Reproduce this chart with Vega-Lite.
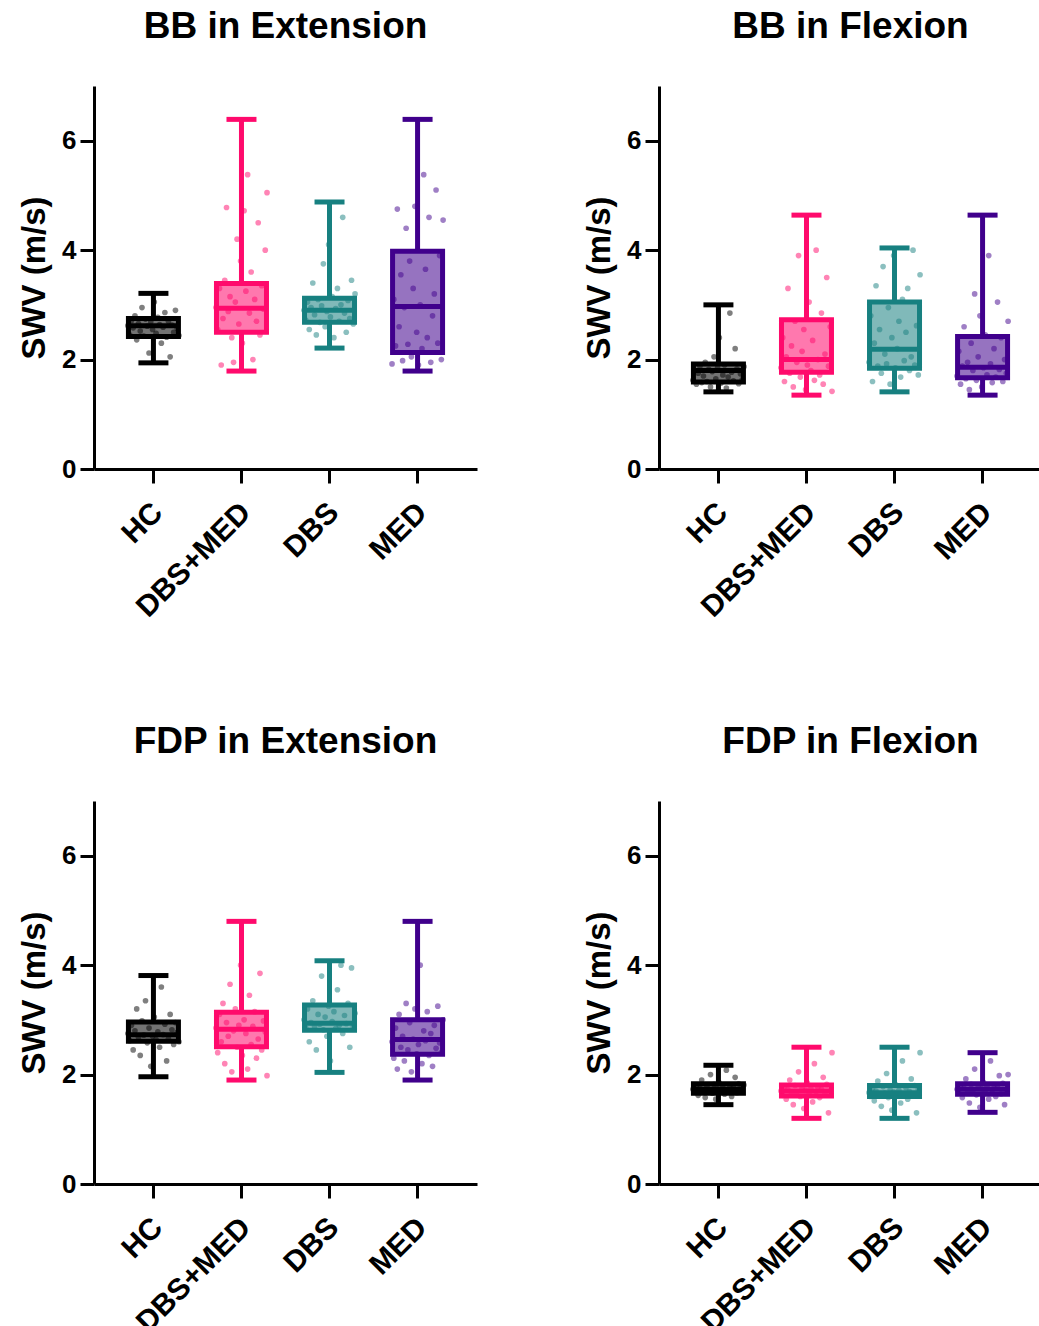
{
"$schema":"https://vega.github.io/schema/vega-lite/v6.json",
"padding":{"left":18,"top":8,"right":0,"bottom":0},
"background":"white",
"config":{
 "view":{"stroke":null},
 "font":"Liberation Sans",
 "title":{"fontSize":37,"fontWeight":"bold","color":"#000","anchor":"middle","offset":40,"font":"Liberation Sans"},
 "axis":{"grid":false,"domainColor":"#000","domainWidth":3,"tickColor":"#000","tickWidth":3,"tickSize":14,"labelColor":"#000","labelFontWeight":"bold","labelFontSize":26,"labelFont":"Liberation Sans","titleColor":"#000","titleFontWeight":"bold","titleFontSize":33,"titleFont":"Liberation Sans","labelPadding":4,"titlePadding":10}
},
"datasets":{
"stats":[
{"p":"a","g":"HC","mn":1.94,"q1":2.42,"md":2.62,"q3":2.75,"mx":3.21},
{"p":"a","g":"DBS+MED","mn":1.79,"q1":2.50,"md":2.94,"q3":3.39,"mx":6.39},
{"p":"a","g":"DBS","mn":2.21,"q1":2.68,"md":2.90,"q3":3.12,"mx":4.88},
{"p":"a","g":"MED","mn":1.79,"q1":2.13,"md":2.97,"q3":3.98,"mx":6.39},
{"p":"b","g":"HC","mn":1.41,"q1":1.59,"md":1.80,"q3":1.92,"mx":3.00},
{"p":"b","g":"DBS+MED","mn":1.35,"q1":1.77,"md":2.00,"q3":2.73,"mx":4.64},
{"p":"b","g":"DBS","mn":1.41,"q1":1.84,"md":2.19,"q3":3.05,"mx":4.04},
{"p":"b","g":"MED","mn":1.35,"q1":1.67,"md":1.86,"q3":2.42,"mx":4.64},
{"p":"c","g":"HC","mn":1.96,"q1":2.61,"md":2.73,"q3":2.96,"mx":3.81},
{"p":"c","g":"DBS+MED","mn":1.90,"q1":2.51,"md":2.83,"q3":3.14,"mx":4.80},
{"p":"c","g":"DBS","mn":2.04,"q1":2.81,"md":2.94,"q3":3.27,"mx":4.08},
{"p":"c","g":"MED","mn":1.90,"q1":2.37,"md":2.64,"q3":3.00,"mx":4.80},
{"p":"d","g":"HC","mn":1.45,"q1":1.66,"md":1.73,"q3":1.83,"mx":2.17},
{"p":"d","g":"DBS+MED","mn":1.20,"q1":1.61,"md":1.70,"q3":1.81,"mx":2.50},
{"p":"d","g":"DBS","mn":1.20,"q1":1.60,"md":1.67,"q3":1.80,"mx":2.50},
{"p":"d","g":"MED","mn":1.31,"q1":1.64,"md":1.73,"q3":1.83,"mx":2.40}
],
"pts":[
{"p":"a","g":"HC","v":2.62},{"p":"a","g":"HC","v":2.45},{"p":"a","g":"HC","v":2.71},{"p":"a","g":"HC","v":2.58},{"p":"a","g":"HC","v":2.80},{"p":"a","g":"HC","v":2.36},{"p":"a","g":"HC","v":2.66},{"p":"a","g":"HC","v":2.52},{"p":"a","g":"HC","v":2.95},{"p":"a","g":"HC","v":2.43},
{"p":"a","g":"HC","v":2.74},{"p":"a","g":"HC","v":2.61},{"p":"a","g":"HC","v":2.12},{"p":"a","g":"HC","v":2.69},{"p":"a","g":"HC","v":2.55},{"p":"a","g":"HC","v":3.05},{"p":"a","g":"HC","v":2.48},{"p":"a","g":"HC","v":2.77},{"p":"a","g":"HC","v":2.64},{"p":"a","g":"HC","v":2.30},
{"p":"a","g":"HC","v":2.59},{"p":"a","g":"HC","v":2.86},{"p":"a","g":"HC","v":2.41},{"p":"a","g":"HC","v":2.70},{"p":"a","g":"HC","v":2.05},{"p":"a","g":"HC","v":2.63},{"p":"a","g":"HC","v":2.50},{"p":"a","g":"HC","v":2.90},{"p":"a","g":"HC","v":2.57},{"p":"a","g":"HC","v":2.44},
{"p":"a","g":"DBS+MED","v":2.95},{"p":"a","g":"DBS+MED","v":2.55},{"p":"a","g":"DBS+MED","v":3.30},{"p":"a","g":"DBS+MED","v":1.90},{"p":"a","g":"DBS+MED","v":2.75},{"p":"a","g":"DBS+MED","v":3.45},{"p":"a","g":"DBS+MED","v":4.78},{"p":"a","g":"DBS+MED","v":2.88},{"p":"a","g":"DBS+MED","v":3.15},{"p":"a","g":"DBS+MED","v":2.40},
{"p":"a","g":"DBS+MED","v":1.95},{"p":"a","g":"DBS+MED","v":3.05},{"p":"a","g":"DBS+MED","v":4.20},{"p":"a","g":"DBS+MED","v":2.65},{"p":"a","g":"DBS+MED","v":3.80},{"p":"a","g":"DBS+MED","v":2.30},{"p":"a","g":"DBS+MED","v":4.72},{"p":"a","g":"DBS+MED","v":3.25},{"p":"a","g":"DBS+MED","v":5.38},{"p":"a","g":"DBS+MED","v":2.85},
{"p":"a","g":"DBS+MED","v":3.60},{"p":"a","g":"DBS+MED","v":2.00},{"p":"a","g":"DBS+MED","v":3.10},{"p":"a","g":"DBS+MED","v":2.70},{"p":"a","g":"DBS+MED","v":4.50},{"p":"a","g":"DBS+MED","v":2.45},{"p":"a","g":"DBS+MED","v":3.35},{"p":"a","g":"DBS+MED","v":2.92},{"p":"a","g":"DBS+MED","v":4.00},{"p":"a","g":"DBS+MED","v":5.05},
{"p":"a","g":"DBS","v":2.90},{"p":"a","g":"DBS","v":2.72},{"p":"a","g":"DBS","v":3.05},{"p":"a","g":"DBS","v":2.55},{"p":"a","g":"DBS","v":2.95},{"p":"a","g":"DBS","v":3.40},{"p":"a","g":"DBS","v":2.82},{"p":"a","g":"DBS","v":2.45},{"p":"a","g":"DBS","v":3.10},{"p":"a","g":"DBS","v":2.68},
{"p":"a","g":"DBS","v":2.98},{"p":"a","g":"DBS","v":3.75},{"p":"a","g":"DBS","v":2.60},{"p":"a","g":"DBS","v":2.88},{"p":"a","g":"DBS","v":4.10},{"p":"a","g":"DBS","v":2.78},{"p":"a","g":"DBS","v":3.15},{"p":"a","g":"DBS","v":2.40},{"p":"a","g":"DBS","v":2.93},{"p":"a","g":"DBS","v":3.30},
{"p":"a","g":"DBS","v":2.70},{"p":"a","g":"DBS","v":3.00},{"p":"a","g":"DBS","v":4.60},{"p":"a","g":"DBS","v":2.85},{"p":"a","g":"DBS","v":2.50},{"p":"a","g":"DBS","v":3.08},{"p":"a","g":"DBS","v":2.75},{"p":"a","g":"DBS","v":3.45},{"p":"a","g":"DBS","v":2.65},{"p":"a","g":"DBS","v":3.20},
{"p":"a","g":"MED","v":1.92},{"p":"a","g":"MED","v":3.10},{"p":"a","g":"MED","v":2.25},{"p":"a","g":"MED","v":4.75},{"p":"a","g":"MED","v":2.60},{"p":"a","g":"MED","v":3.55},{"p":"a","g":"MED","v":1.98},{"p":"a","g":"MED","v":2.95},{"p":"a","g":"MED","v":4.40},{"p":"a","g":"MED","v":2.28},
{"p":"a","g":"MED","v":3.80},{"p":"a","g":"MED","v":2.05},{"p":"a","g":"MED","v":3.30},{"p":"a","g":"MED","v":4.80},{"p":"a","g":"MED","v":2.50},{"p":"a","g":"MED","v":1.90},{"p":"a","g":"MED","v":3.00},{"p":"a","g":"MED","v":2.20},{"p":"a","g":"MED","v":5.38},{"p":"a","g":"MED","v":3.65},
{"p":"a","g":"MED","v":2.40},{"p":"a","g":"MED","v":4.60},{"p":"a","g":"MED","v":1.95},{"p":"a","g":"MED","v":2.80},{"p":"a","g":"MED","v":3.20},{"p":"a","g":"MED","v":5.10},{"p":"a","g":"MED","v":2.30},{"p":"a","g":"MED","v":3.90},{"p":"a","g":"MED","v":2.00},{"p":"a","g":"MED","v":4.55},
{"p":"b","g":"HC","v":1.62},{"p":"b","g":"HC","v":1.80},{"p":"b","g":"HC","v":1.55},{"p":"b","g":"HC","v":1.75},{"p":"b","g":"HC","v":1.88},{"p":"b","g":"HC","v":1.58},{"p":"b","g":"HC","v":1.70},{"p":"b","g":"HC","v":1.95},{"p":"b","g":"HC","v":1.60},{"p":"b","g":"HC","v":1.82},
{"p":"b","g":"HC","v":1.50},{"p":"b","g":"HC","v":1.78},{"p":"b","g":"HC","v":2.05},{"p":"b","g":"HC","v":1.65},{"p":"b","g":"HC","v":1.85},{"p":"b","g":"HC","v":2.40},{"p":"b","g":"HC","v":1.57},{"p":"b","g":"HC","v":1.72},{"p":"b","g":"HC","v":1.90},{"p":"b","g":"HC","v":1.48},
{"p":"b","g":"HC","v":1.68},{"p":"b","g":"HC","v":2.85},{"p":"b","g":"HC","v":1.77},{"p":"b","g":"HC","v":1.61},{"p":"b","g":"HC","v":2.20},{"p":"b","g":"HC","v":1.83},{"p":"b","g":"HC","v":1.56},{"p":"b","g":"HC","v":1.74},{"p":"b","g":"HC","v":1.63},{"p":"b","g":"HC","v":1.87},
{"p":"b","g":"DBS+MED","v":1.85},{"p":"b","g":"DBS+MED","v":2.40},{"p":"b","g":"DBS+MED","v":1.60},{"p":"b","g":"DBS+MED","v":2.05},{"p":"b","g":"DBS+MED","v":3.30},{"p":"b","g":"DBS+MED","v":1.75},{"p":"b","g":"DBS+MED","v":2.25},{"p":"b","g":"DBS+MED","v":1.50},{"p":"b","g":"DBS+MED","v":2.70},{"p":"b","g":"DBS+MED","v":1.95},
{"p":"b","g":"DBS+MED","v":3.90},{"p":"b","g":"DBS+MED","v":1.68},{"p":"b","g":"DBS+MED","v":2.15},{"p":"b","g":"DBS+MED","v":2.55},{"p":"b","g":"DBS+MED","v":1.45},{"p":"b","g":"DBS+MED","v":1.90},{"p":"b","g":"DBS+MED","v":3.05},{"p":"b","g":"DBS+MED","v":1.80},{"p":"b","g":"DBS+MED","v":2.35},{"p":"b","g":"DBS+MED","v":1.62},
{"p":"b","g":"DBS+MED","v":4.00},{"p":"b","g":"DBS+MED","v":2.00},{"p":"b","g":"DBS+MED","v":1.72},{"p":"b","g":"DBS+MED","v":2.85},{"p":"b","g":"DBS+MED","v":1.55},{"p":"b","g":"DBS+MED","v":2.10},{"p":"b","g":"DBS+MED","v":3.50},{"p":"b","g":"DBS+MED","v":1.88},{"p":"b","g":"DBS+MED","v":2.60},{"p":"b","g":"DBS+MED","v":1.42},
{"p":"b","g":"DBS","v":1.95},{"p":"b","g":"DBS","v":2.80},{"p":"b","g":"DBS","v":1.60},{"p":"b","g":"DBS","v":2.30},{"p":"b","g":"DBS","v":3.35},{"p":"b","g":"DBS","v":1.88},{"p":"b","g":"DBS","v":2.55},{"p":"b","g":"DBS","v":1.75},{"p":"b","g":"DBS","v":3.70},{"p":"b","g":"DBS","v":2.10},
{"p":"b","g":"DBS","v":1.92},{"p":"b","g":"DBS","v":2.95},{"p":"b","g":"DBS","v":1.55},{"p":"b","g":"DBS","v":2.40},{"p":"b","g":"DBS","v":3.90},{"p":"b","g":"DBS","v":1.85},{"p":"b","g":"DBS","v":2.20},{"p":"b","g":"DBS","v":2.70},{"p":"b","g":"DBS","v":1.68},{"p":"b","g":"DBS","v":3.10},
{"p":"b","g":"DBS","v":1.98},{"p":"b","g":"DBS","v":2.50},{"p":"b","g":"DBS","v":3.30},{"p":"b","g":"DBS","v":1.80},{"p":"b","g":"DBS","v":2.05},{"p":"b","g":"DBS","v":4.00},{"p":"b","g":"DBS","v":1.90},{"p":"b","g":"DBS","v":2.62},{"p":"b","g":"DBS","v":1.72},{"p":"b","g":"DBS","v":3.55},
{"p":"b","g":"MED","v":1.70},{"p":"b","g":"MED","v":2.15},{"p":"b","g":"MED","v":1.55},{"p":"b","g":"MED","v":1.88},{"p":"b","g":"MED","v":2.60},{"p":"b","g":"MED","v":1.65},{"p":"b","g":"MED","v":1.95},{"p":"b","g":"MED","v":1.45},{"p":"b","g":"MED","v":2.30},{"p":"b","g":"MED","v":1.80},
{"p":"b","g":"MED","v":3.20},{"p":"b","g":"MED","v":1.62},{"p":"b","g":"MED","v":2.05},{"p":"b","g":"MED","v":2.80},{"p":"b","g":"MED","v":1.50},{"p":"b","g":"MED","v":1.85},{"p":"b","g":"MED","v":2.45},{"p":"b","g":"MED","v":1.72},{"p":"b","g":"MED","v":3.90},{"p":"b","g":"MED","v":1.92},
{"p":"b","g":"MED","v":1.58},{"p":"b","g":"MED","v":2.20},{"p":"b","g":"MED","v":1.68},{"p":"b","g":"MED","v":3.05},{"p":"b","g":"MED","v":1.82},{"p":"b","g":"MED","v":2.40},{"p":"b","g":"MED","v":1.60},{"p":"b","g":"MED","v":2.00},{"p":"b","g":"MED","v":1.75},{"p":"b","g":"MED","v":2.70},
{"p":"c","g":"HC","v":2.75},{"p":"c","g":"HC","v":2.62},{"p":"c","g":"HC","v":2.90},{"p":"c","g":"HC","v":2.45},{"p":"c","g":"HC","v":2.80},{"p":"c","g":"HC","v":3.20},{"p":"c","g":"HC","v":2.68},{"p":"c","g":"HC","v":2.35},{"p":"c","g":"HC","v":2.98},{"p":"c","g":"HC","v":2.72},
{"p":"c","g":"HC","v":3.35},{"p":"c","g":"HC","v":2.58},{"p":"c","g":"HC","v":2.85},{"p":"c","g":"HC","v":2.15},{"p":"c","g":"HC","v":2.70},{"p":"c","g":"HC","v":3.05},{"p":"c","g":"HC","v":2.64},{"p":"c","g":"HC","v":2.78},{"p":"c","g":"HC","v":2.50},{"p":"c","g":"HC","v":3.60},
{"p":"c","g":"HC","v":2.73},{"p":"c","g":"HC","v":2.92},{"p":"c","g":"HC","v":2.25},{"p":"c","g":"HC","v":2.66},{"p":"c","g":"HC","v":3.10},{"p":"c","g":"HC","v":2.82},{"p":"c","g":"HC","v":2.55},{"p":"c","g":"HC","v":2.95},{"p":"c","g":"HC","v":2.77},{"p":"c","g":"HC","v":2.60},
{"p":"c","g":"DBS+MED","v":2.85},{"p":"c","g":"DBS+MED","v":2.40},{"p":"c","g":"DBS+MED","v":3.10},{"p":"c","g":"DBS+MED","v":2.60},{"p":"c","g":"DBS+MED","v":3.30},{"p":"c","g":"DBS+MED","v":2.20},{"p":"c","g":"DBS+MED","v":2.95},{"p":"c","g":"DBS+MED","v":2.70},{"p":"c","g":"DBS+MED","v":3.65},{"p":"c","g":"DBS+MED","v":2.05},
{"p":"c","g":"DBS+MED","v":2.80},{"p":"c","g":"DBS+MED","v":3.20},{"p":"c","g":"DBS+MED","v":2.50},{"p":"c","g":"DBS+MED","v":2.90},{"p":"c","g":"DBS+MED","v":4.00},{"p":"c","g":"DBS+MED","v":2.35},{"p":"c","g":"DBS+MED","v":3.00},{"p":"c","g":"DBS+MED","v":2.75},{"p":"c","g":"DBS+MED","v":2.10},{"p":"c","g":"DBS+MED","v":3.45},
{"p":"c","g":"DBS+MED","v":2.55},{"p":"c","g":"DBS+MED","v":2.88},{"p":"c","g":"DBS+MED","v":3.15},{"p":"c","g":"DBS+MED","v":2.30},{"p":"c","g":"DBS+MED","v":2.65},{"p":"c","g":"DBS+MED","v":3.85},{"p":"c","g":"DBS+MED","v":2.45},{"p":"c","g":"DBS+MED","v":2.98},{"p":"c","g":"DBS+MED","v":2.78},{"p":"c","g":"DBS+MED","v":1.98},
{"p":"c","g":"DBS","v":3.00},{"p":"c","g":"DBS","v":2.85},{"p":"c","g":"DBS","v":3.20},{"p":"c","g":"DBS","v":2.60},{"p":"c","g":"DBS","v":2.95},{"p":"c","g":"DBS","v":3.35},{"p":"c","g":"DBS","v":2.88},{"p":"c","g":"DBS","v":2.45},{"p":"c","g":"DBS","v":3.10},{"p":"c","g":"DBS","v":2.92},
{"p":"c","g":"DBS","v":3.80},{"p":"c","g":"DBS","v":2.82},{"p":"c","g":"DBS","v":3.05},{"p":"c","g":"DBS","v":2.70},{"p":"c","g":"DBS","v":3.25},{"p":"c","g":"DBS","v":2.25},{"p":"c","g":"DBS","v":2.97},{"p":"c","g":"DBS","v":3.15},{"p":"c","g":"DBS","v":2.84},{"p":"c","g":"DBS","v":3.55},
{"p":"c","g":"DBS","v":2.90},{"p":"c","g":"DBS","v":4.00},{"p":"c","g":"DBS","v":2.75},{"p":"c","g":"DBS","v":3.08},{"p":"c","g":"DBS","v":2.93},{"p":"c","g":"DBS","v":3.30},{"p":"c","g":"DBS","v":2.50},{"p":"c","g":"DBS","v":3.95},{"p":"c","g":"DBS","v":2.87},{"p":"c","g":"DBS","v":3.12},
{"p":"c","g":"MED","v":2.60},{"p":"c","g":"MED","v":2.30},{"p":"c","g":"MED","v":2.85},{"p":"c","g":"MED","v":2.10},{"p":"c","g":"MED","v":3.10},{"p":"c","g":"MED","v":2.50},{"p":"c","g":"MED","v":2.70},{"p":"c","g":"MED","v":2.25},{"p":"c","g":"MED","v":3.30},{"p":"c","g":"MED","v":2.45},
{"p":"c","g":"MED","v":2.95},{"p":"c","g":"MED","v":2.05},{"p":"c","g":"MED","v":2.65},{"p":"c","g":"MED","v":3.20},{"p":"c","g":"MED","v":2.38},{"p":"c","g":"MED","v":2.55},{"p":"c","g":"MED","v":4.00},{"p":"c","g":"MED","v":2.20},{"p":"c","g":"MED","v":2.80},{"p":"c","g":"MED","v":2.62},
{"p":"c","g":"MED","v":3.15},{"p":"c","g":"MED","v":2.35},{"p":"c","g":"MED","v":2.75},{"p":"c","g":"MED","v":2.15},{"p":"c","g":"MED","v":2.90},{"p":"c","g":"MED","v":2.48},{"p":"c","g":"MED","v":3.25},{"p":"c","g":"MED","v":2.58},{"p":"c","g":"MED","v":2.40},{"p":"c","g":"MED","v":3.00},
{"p":"d","g":"HC","v":1.73},{"p":"d","g":"HC","v":1.68},{"p":"d","g":"HC","v":1.80},{"p":"d","g":"HC","v":1.62},{"p":"d","g":"HC","v":1.75},{"p":"d","g":"HC","v":1.90},{"p":"d","g":"HC","v":1.70},{"p":"d","g":"HC","v":1.58},{"p":"d","g":"HC","v":1.78},{"p":"d","g":"HC","v":1.72},
{"p":"d","g":"HC","v":2.00},{"p":"d","g":"HC","v":1.66},{"p":"d","g":"HC","v":1.82},{"p":"d","g":"HC","v":1.55},{"p":"d","g":"HC","v":1.74},{"p":"d","g":"HC","v":1.85},{"p":"d","g":"HC","v":1.69},{"p":"d","g":"HC","v":1.76},{"p":"d","g":"HC","v":1.64},{"p":"d","g":"HC","v":2.08},
{"p":"d","g":"HC","v":1.71},{"p":"d","g":"HC","v":1.79},{"p":"d","g":"HC","v":1.60},{"p":"d","g":"HC","v":1.77},{"p":"d","g":"HC","v":1.95},{"p":"d","g":"HC","v":1.67},{"p":"d","g":"HC","v":1.83},{"p":"d","g":"HC","v":1.74},{"p":"d","g":"HC","v":1.72},{"p":"d","g":"HC","v":1.81},
{"p":"d","g":"DBS+MED","v":1.70},{"p":"d","g":"DBS+MED","v":1.62},{"p":"d","g":"DBS+MED","v":1.78},{"p":"d","g":"DBS+MED","v":1.55},{"p":"d","g":"DBS+MED","v":1.72},{"p":"d","g":"DBS+MED","v":1.90},{"p":"d","g":"DBS+MED","v":1.66},{"p":"d","g":"DBS+MED","v":1.45},{"p":"d","g":"DBS+MED","v":1.80},{"p":"d","g":"DBS+MED","v":1.68},
{"p":"d","g":"DBS+MED","v":2.05},{"p":"d","g":"DBS+MED","v":1.60},{"p":"d","g":"DBS+MED","v":1.75},{"p":"d","g":"DBS+MED","v":1.38},{"p":"d","g":"DBS+MED","v":1.71},{"p":"d","g":"DBS+MED","v":1.85},{"p":"d","g":"DBS+MED","v":1.64},{"p":"d","g":"DBS+MED","v":1.74},{"p":"d","g":"DBS+MED","v":1.50},{"p":"d","g":"DBS+MED","v":2.20},
{"p":"d","g":"DBS+MED","v":1.69},{"p":"d","g":"DBS+MED","v":1.77},{"p":"d","g":"DBS+MED","v":1.58},{"p":"d","g":"DBS+MED","v":1.73},{"p":"d","g":"DBS+MED","v":1.95},{"p":"d","g":"DBS+MED","v":1.65},{"p":"d","g":"DBS+MED","v":1.82},{"p":"d","g":"DBS+MED","v":1.30},{"p":"d","g":"DBS+MED","v":1.70},{"p":"d","g":"DBS+MED","v":2.40},
{"p":"d","g":"DBS","v":1.67},{"p":"d","g":"DBS","v":1.60},{"p":"d","g":"DBS","v":1.75},{"p":"d","g":"DBS","v":1.52},{"p":"d","g":"DBS","v":1.70},{"p":"d","g":"DBS","v":1.88},{"p":"d","g":"DBS","v":1.63},{"p":"d","g":"DBS","v":1.42},{"p":"d","g":"DBS","v":1.78},{"p":"d","g":"DBS","v":1.66},
{"p":"d","g":"DBS","v":2.02},{"p":"d","g":"DBS","v":1.58},{"p":"d","g":"DBS","v":1.72},{"p":"d","g":"DBS","v":1.35},{"p":"d","g":"DBS","v":1.68},{"p":"d","g":"DBS","v":1.82},{"p":"d","g":"DBS","v":1.62},{"p":"d","g":"DBS","v":1.71},{"p":"d","g":"DBS","v":1.48},{"p":"d","g":"DBS","v":2.25},
{"p":"d","g":"DBS","v":1.65},{"p":"d","g":"DBS","v":1.76},{"p":"d","g":"DBS","v":1.55},{"p":"d","g":"DBS","v":1.69},{"p":"d","g":"DBS","v":1.92},{"p":"d","g":"DBS","v":1.61},{"p":"d","g":"DBS","v":1.80},{"p":"d","g":"DBS","v":1.30},{"p":"d","g":"DBS","v":1.73},{"p":"d","g":"DBS","v":2.40},
{"p":"d","g":"MED","v":1.73},{"p":"d","g":"MED","v":1.66},{"p":"d","g":"MED","v":1.80},{"p":"d","g":"MED","v":1.58},{"p":"d","g":"MED","v":1.75},{"p":"d","g":"MED","v":1.92},{"p":"d","g":"MED","v":1.69},{"p":"d","g":"MED","v":1.48},{"p":"d","g":"MED","v":1.82},{"p":"d","g":"MED","v":1.71},
{"p":"d","g":"MED","v":2.10},{"p":"d","g":"MED","v":1.63},{"p":"d","g":"MED","v":1.77},{"p":"d","g":"MED","v":1.40},{"p":"d","g":"MED","v":1.74},{"p":"d","g":"MED","v":1.86},{"p":"d","g":"MED","v":1.67},{"p":"d","g":"MED","v":1.78},{"p":"d","g":"MED","v":1.55},{"p":"d","g":"MED","v":2.25},
{"p":"d","g":"MED","v":1.72},{"p":"d","g":"MED","v":1.81},{"p":"d","g":"MED","v":1.60},{"p":"d","g":"MED","v":1.76},{"p":"d","g":"MED","v":1.98},{"p":"d","g":"MED","v":1.65},{"p":"d","g":"MED","v":1.84},{"p":"d","g":"MED","v":1.45},{"p":"d","g":"MED","v":1.70},{"p":"d","g":"MED","v":2.00}
]
},
"vconcat":[
{"hconcat":[
{"title":"BB in Extension","width":383,"height":383,
 "encoding":{"x":{"field":"g","type":"nominal","sort":["HC","DBS+MED","DBS","MED"],"scale":{"paddingInner":0.4,"paddingOuter":0.375},"axis":{"title":null,"labelAngle":-45,"labelFontSize":30,"labelPadding":14,"labelOffset":-6}},"color":{"field":"g","type":"nominal","legend":null,"scale":{"domain":["HC","DBS+MED","DBS","MED"],"range":["#000000","#FF0A6C","#178080","#40008C"]}}},
 "layer":[
  {"data":{"name":"stats"},"transform":[{"filter":"datum.p==='a'"}],"mark":{"type":"bar","width":50,"fillOpacity":0.55,"strokeWidth":0},"encoding":{"y":{"field":"q1","type":"quantitative","scale":{"domain":[0,7],"nice":false},"axis":{"values":[0,2,4,6],"format":"d","title":"SWV (m/s)"}},"y2":{"field":"q3"}}},
  {"data":{"name":"pts"},"transform":[{"filter":"datum.p==='a'"},{"window":[{"op":"row_number","as":"o"}],"groupby":["g"]}],"mark":{"type":"point","filled":true,"size":32,"opacity":0.5},"encoding":{"xOffset":{"field":"o","type":"nominal"},"y":{"field":"v","type":"quantitative"}}},
  {"data":{"name":"stats"},"transform":[{"filter":"datum.p==='a'"}],"mark":{"type":"rule","strokeWidth":5},"encoding":{"y":{"field":"mn","type":"quantitative"},"y2":{"field":"q1"}}},
  {"data":{"name":"stats"},"transform":[{"filter":"datum.p==='a'"}],"mark":{"type":"rule","strokeWidth":5},"encoding":{"y":{"field":"q3","type":"quantitative"},"y2":{"field":"mx"}}},
  {"data":{"name":"stats"},"transform":[{"filter":"datum.p==='a'"}],"mark":{"type":"bar","width":50,"fillOpacity":0,"strokeWidth":5},"encoding":{"y":{"field":"q1","type":"quantitative"},"y2":{"field":"q3"},"stroke":{"field":"g","type":"nominal","legend":null,"scale":{"domain":["HC","DBS+MED","DBS","MED"],"range":["#000000","#FF0A6C","#178080","#40008C"]}}}},
  {"data":{"name":"stats"},"transform":[{"filter":"datum.p==='a'"}],"mark":{"type":"tick","size":50,"thickness":5,"opacity":1},"encoding":{"y":{"field":"md","type":"quantitative"}}},
  {"data":{"name":"stats"},"transform":[{"filter":"datum.p==='a'"}],"mark":{"type":"tick","size":30,"thickness":5,"opacity":1},"encoding":{"y":{"field":"mn","type":"quantitative"}}},
  {"data":{"name":"stats"},"transform":[{"filter":"datum.p==='a'"}],"mark":{"type":"tick","size":30,"thickness":5,"opacity":1},"encoding":{"y":{"field":"mx","type":"quantitative"}}}
 ]},
{"title":"BB in Flexion","width":383,"height":383,
 "encoding":{"x":{"field":"g","type":"nominal","sort":["HC","DBS+MED","DBS","MED"],"scale":{"paddingInner":0.4,"paddingOuter":0.375},"axis":{"title":null,"labelAngle":-45,"labelFontSize":30,"labelPadding":14,"labelOffset":-6}},"color":{"field":"g","type":"nominal","legend":null,"scale":{"domain":["HC","DBS+MED","DBS","MED"],"range":["#000000","#FF0A6C","#178080","#40008C"]}}},
 "layer":[
  {"data":{"name":"stats"},"transform":[{"filter":"datum.p==='b'"}],"mark":{"type":"bar","width":50,"fillOpacity":0.55,"strokeWidth":0},"encoding":{"y":{"field":"q1","type":"quantitative","scale":{"domain":[0,7],"nice":false},"axis":{"values":[0,2,4,6],"format":"d","title":"SWV (m/s)"}},"y2":{"field":"q3"}}},
  {"data":{"name":"pts"},"transform":[{"filter":"datum.p==='b'"},{"window":[{"op":"row_number","as":"o"}],"groupby":["g"]}],"mark":{"type":"point","filled":true,"size":32,"opacity":0.5},"encoding":{"xOffset":{"field":"o","type":"nominal"},"y":{"field":"v","type":"quantitative"}}},
  {"data":{"name":"stats"},"transform":[{"filter":"datum.p==='b'"}],"mark":{"type":"rule","strokeWidth":5},"encoding":{"y":{"field":"mn","type":"quantitative"},"y2":{"field":"q1"}}},
  {"data":{"name":"stats"},"transform":[{"filter":"datum.p==='b'"}],"mark":{"type":"rule","strokeWidth":5},"encoding":{"y":{"field":"q3","type":"quantitative"},"y2":{"field":"mx"}}},
  {"data":{"name":"stats"},"transform":[{"filter":"datum.p==='b'"}],"mark":{"type":"bar","width":50,"fillOpacity":0,"strokeWidth":5},"encoding":{"y":{"field":"q1","type":"quantitative"},"y2":{"field":"q3"},"stroke":{"field":"g","type":"nominal","legend":null,"scale":{"domain":["HC","DBS+MED","DBS","MED"],"range":["#000000","#FF0A6C","#178080","#40008C"]}}}},
  {"data":{"name":"stats"},"transform":[{"filter":"datum.p==='b'"}],"mark":{"type":"tick","size":50,"thickness":5,"opacity":1},"encoding":{"y":{"field":"md","type":"quantitative"}}},
  {"data":{"name":"stats"},"transform":[{"filter":"datum.p==='b'"}],"mark":{"type":"tick","size":30,"thickness":5,"opacity":1},"encoding":{"y":{"field":"mn","type":"quantitative"}}},
  {"data":{"name":"stats"},"transform":[{"filter":"datum.p==='b'"}],"mark":{"type":"tick","size":30,"thickness":5,"opacity":1},"encoding":{"y":{"field":"mx","type":"quantitative"}}}
 ]}
],"spacing":106},
{"hconcat":[
{"title":"FDP in Extension","width":383,"height":383,
 "encoding":{"x":{"field":"g","type":"nominal","sort":["HC","DBS+MED","DBS","MED"],"scale":{"paddingInner":0.4,"paddingOuter":0.375},"axis":{"title":null,"labelAngle":-45,"labelFontSize":30,"labelPadding":14,"labelOffset":-6}},"color":{"field":"g","type":"nominal","legend":null,"scale":{"domain":["HC","DBS+MED","DBS","MED"],"range":["#000000","#FF0A6C","#178080","#40008C"]}}},
 "layer":[
  {"data":{"name":"stats"},"transform":[{"filter":"datum.p==='c'"}],"mark":{"type":"bar","width":50,"fillOpacity":0.55,"strokeWidth":0},"encoding":{"y":{"field":"q1","type":"quantitative","scale":{"domain":[0,7],"nice":false},"axis":{"values":[0,2,4,6],"format":"d","title":"SWV (m/s)"}},"y2":{"field":"q3"}}},
  {"data":{"name":"pts"},"transform":[{"filter":"datum.p==='c'"},{"window":[{"op":"row_number","as":"o"}],"groupby":["g"]}],"mark":{"type":"point","filled":true,"size":32,"opacity":0.5},"encoding":{"xOffset":{"field":"o","type":"nominal"},"y":{"field":"v","type":"quantitative"}}},
  {"data":{"name":"stats"},"transform":[{"filter":"datum.p==='c'"}],"mark":{"type":"rule","strokeWidth":5},"encoding":{"y":{"field":"mn","type":"quantitative"},"y2":{"field":"q1"}}},
  {"data":{"name":"stats"},"transform":[{"filter":"datum.p==='c'"}],"mark":{"type":"rule","strokeWidth":5},"encoding":{"y":{"field":"q3","type":"quantitative"},"y2":{"field":"mx"}}},
  {"data":{"name":"stats"},"transform":[{"filter":"datum.p==='c'"}],"mark":{"type":"bar","width":50,"fillOpacity":0,"strokeWidth":5},"encoding":{"y":{"field":"q1","type":"quantitative"},"y2":{"field":"q3"},"stroke":{"field":"g","type":"nominal","legend":null,"scale":{"domain":["HC","DBS+MED","DBS","MED"],"range":["#000000","#FF0A6C","#178080","#40008C"]}}}},
  {"data":{"name":"stats"},"transform":[{"filter":"datum.p==='c'"}],"mark":{"type":"tick","size":50,"thickness":5,"opacity":1},"encoding":{"y":{"field":"md","type":"quantitative"}}},
  {"data":{"name":"stats"},"transform":[{"filter":"datum.p==='c'"}],"mark":{"type":"tick","size":30,"thickness":5,"opacity":1},"encoding":{"y":{"field":"mn","type":"quantitative"}}},
  {"data":{"name":"stats"},"transform":[{"filter":"datum.p==='c'"}],"mark":{"type":"tick","size":30,"thickness":5,"opacity":1},"encoding":{"y":{"field":"mx","type":"quantitative"}}}
 ]},
{"title":"FDP in Flexion","width":383,"height":383,
 "encoding":{"x":{"field":"g","type":"nominal","sort":["HC","DBS+MED","DBS","MED"],"scale":{"paddingInner":0.4,"paddingOuter":0.375},"axis":{"title":null,"labelAngle":-45,"labelFontSize":30,"labelPadding":14,"labelOffset":-6}},"color":{"field":"g","type":"nominal","legend":null,"scale":{"domain":["HC","DBS+MED","DBS","MED"],"range":["#000000","#FF0A6C","#178080","#40008C"]}}},
 "layer":[
  {"data":{"name":"stats"},"transform":[{"filter":"datum.p==='d'"}],"mark":{"type":"bar","width":50,"fillOpacity":0.55,"strokeWidth":0},"encoding":{"y":{"field":"q1","type":"quantitative","scale":{"domain":[0,7],"nice":false},"axis":{"values":[0,2,4,6],"format":"d","title":"SWV (m/s)"}},"y2":{"field":"q3"}}},
  {"data":{"name":"pts"},"transform":[{"filter":"datum.p==='d'"},{"window":[{"op":"row_number","as":"o"}],"groupby":["g"]}],"mark":{"type":"point","filled":true,"size":32,"opacity":0.5},"encoding":{"xOffset":{"field":"o","type":"nominal"},"y":{"field":"v","type":"quantitative"}}},
  {"data":{"name":"stats"},"transform":[{"filter":"datum.p==='d'"}],"mark":{"type":"rule","strokeWidth":5},"encoding":{"y":{"field":"mn","type":"quantitative"},"y2":{"field":"q1"}}},
  {"data":{"name":"stats"},"transform":[{"filter":"datum.p==='d'"}],"mark":{"type":"rule","strokeWidth":5},"encoding":{"y":{"field":"q3","type":"quantitative"},"y2":{"field":"mx"}}},
  {"data":{"name":"stats"},"transform":[{"filter":"datum.p==='d'"}],"mark":{"type":"bar","width":50,"fillOpacity":0,"strokeWidth":5},"encoding":{"y":{"field":"q1","type":"quantitative"},"y2":{"field":"q3"},"stroke":{"field":"g","type":"nominal","legend":null,"scale":{"domain":["HC","DBS+MED","DBS","MED"],"range":["#000000","#FF0A6C","#178080","#40008C"]}}}},
  {"data":{"name":"stats"},"transform":[{"filter":"datum.p==='d'"}],"mark":{"type":"tick","size":50,"thickness":5,"opacity":1},"encoding":{"y":{"field":"md","type":"quantitative"}}},
  {"data":{"name":"stats"},"transform":[{"filter":"datum.p==='d'"}],"mark":{"type":"tick","size":30,"thickness":5,"opacity":1},"encoding":{"y":{"field":"mn","type":"quantitative"}}},
  {"data":{"name":"stats"},"transform":[{"filter":"datum.p==='d'"}],"mark":{"type":"tick","size":30,"thickness":5,"opacity":1},"encoding":{"y":{"field":"mx","type":"quantitative"}}}
 ]}
],"spacing":106}
],"spacing":100
}
